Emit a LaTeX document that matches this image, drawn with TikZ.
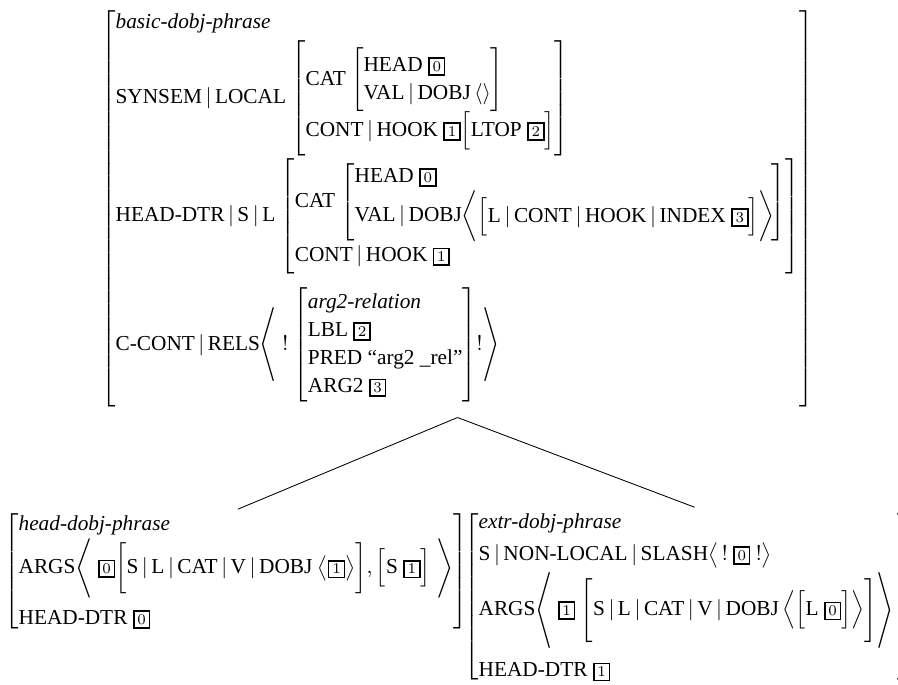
\documentclass[tikz,border=0pt]{standalone}
\usepackage[no-math]{fontspec}
\setmainfont{Liberation Serif}
\usepackage{amsmath}
\usepackage{graphicx}
\usetikzlibrary{positioning}

% feature structures
\newcommand{\attr}[1]{\text{#1}}
\newcommand{\type}[1]{\text{\itshape #1}}
\newcommand{\pbar}{\,|\,}
\newcommand{\tagnum}[1]{{\setlength{\fboxsep}{1.3pt}\setlength{\fboxrule}{0.8pt}\fbox{$\scriptstyle #1$}}}
\newcommand{\langsc}[1]{\mathopen{\vcenter{\hbox{\scalebox{1}[#1]{$\Biggl\langle$}}}}}
\newcommand{\rangsc}[1]{\mathclose{\vcenter{\hbox{\scalebox{1}[#1]{$\Biggr\rangle$}}}}}
\newcommand{\rowgap}[1]{\\\noalign{\vskip#1}}
\NewDocumentEnvironment{fs}{O{0pt} O{#1}}{\mathord\bgroup\left[\begin{array}{@{}l@{}}\noalign{\vskip#1}}{\\\noalign{\vskip#2}\end{array}\right]\egroup}
\renewcommand{\arraystretch}{1.1}

\begin{document}
\begin{tikzpicture}[
		x=0.4695pt, y=-0.4695pt,
		avm/.style={inner sep=0pt, anchor=north west},
		branch/.style={shorten >=1pt}
		]
		\useasboundingbox (0,0) rectangle (898,685);
		% mother
		\node[avm] (bdp) at (101,6) {$\begin{fs}[1pt][2pt]
			\type{basic-dobj-phrase}\\[2pt]
			\attr{SYNSEM}\pbar\attr{LOCAL}\ \begin{fs}[3pt][2.6pt]
				\attr{CAT}\ \begin{fs}[1.8pt]\attr{HEAD}\ \tagnum{0}\\ \attr{VAL}\pbar\attr{DOBJ}\,\langle\rangle\end{fs}\\
				\attr{CONT}\pbar\attr{HOOK}\ \tagnum{1}\begin{fs}[0.6pt]\attr{LTOP}\ \tagnum{2}\end{fs}
			\end{fs}\\
			\attr{HEAD-DTR}\pbar\attr{S}\pbar\attr{L}\ \begin{fs}[3.2pt]
				\attr{CAT}\ \begin{fs}\attr{HEAD}\ \tagnum{0}\\ \attr{VAL}\pbar\attr{DOBJ}\biggl\langle\begin{fs}[0.9pt]\attr{L}\pbar\attr{CONT}\pbar\attr{HOOK}\pbar\attr{INDEX}\ \tagnum{3}\end{fs}\biggr\rangle\!\end{fs}\\
				\attr{CONT}\pbar\attr{HOOK}\ \tagnum{1}
			\end{fs}\rowgap{3pt}
			\attr{C-CONT}\pbar\attr{RELS}\langsc{1.16}\ !\ \begin{fs}[2.5pt]\type{arg2-relation}\\ \attr{LBL}\ \tagnum{2}\\ \attr{PRED}\ \text{``arg2 \_rel''}\\ \attr{ARG2}\ \tagnum{3}\end{fs}!\rangsc{1.16}
		\end{fs}$};
		\coordinate (apex) at ([yshift=-3pt]bdp.south);
		% daughters
		\node[avm] (hdp) at (4,510) {$\begin{fs}
			\type{head-dobj-phrase}\\
			\attr{ARGS}\langsc{0.93}\ \tagnum{0}\begin{fs}[3.4pt]\attr{S}\pbar\attr{L}\pbar\attr{CAT}\pbar\attr{V}\pbar\attr{DOBJ}\ \bigl\langle\tagnum{1}\bigr\rangle\end{fs}, \begin{fs}[1pt]\attr{S}\ \tagnum{1}\end{fs}\ \rangsc{0.93}\rowgap{3pt}
			\attr{HEAD-DTR}\ \tagnum{0}
		\end{fs}$};
		\node[avm] (edp) at (464,508) {$\begin{fs}
			\type{extr-dobj-phrase}\\[2pt]
			\attr{S}\pbar\attr{NON-LOCAL}\pbar\attr{SLASH}\bigl\langle\,!\ \tagnum{0}\ !\bigr\rangle\\[1.5pt]
			\attr{ARGS}\langsc{1.19}\ \tagnum{1}\ \begin{fs}[7pt]\attr{S}\pbar\attr{L}\pbar\attr{CAT}\pbar\attr{V}\pbar\attr{DOBJ}\,\Bigl\langle\begin{fs}[0.6pt]\attr{L}\ \tagnum{0}\end{fs}\Bigr\rangle\end{fs}\rangsc{1.19}\,\rowgap{4.2pt}
			\attr{HEAD-DTR}\ \tagnum{1}
		\end{fs}$};
		% branches
		\draw[branch] (apex) -- (hdp.north);
		\draw[branch] (apex) -- ([xshift=4pt]edp.north);
\end{tikzpicture}
\end{document}
